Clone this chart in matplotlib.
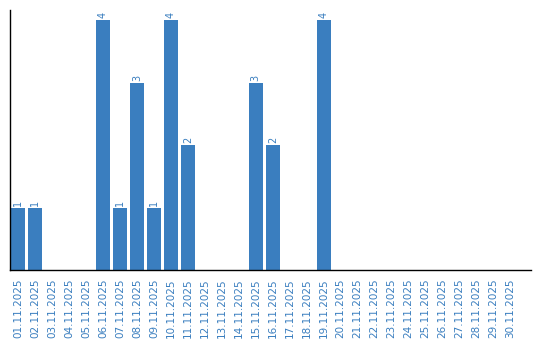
import matplotlib.pyplot as plt
import numpy as np

days = ["%02d.11.2025" % d for d in range(1, 31)]
counts = [1, 1, 0, 0, 0, 4, 1, 3, 1, 4, 2, 0, 0, 0, 3, 2, 0, 0, 4,
          0, 0, 0, 0, 0, 0, 0, 0, 0, 0, 0]

blue = "#3a7ebf"

fig = plt.figure(figsize=(5.4, 3.4), dpi=100)
ax = fig.add_axes([10 / 540, 70 / 340, 521 / 540, 260 / 340])

x = np.arange(len(days))
bars = ax.bar(x, counts, width=0.82, color=blue)

for xi, c in zip(x, counts):
    if c > 0:
        ax.text(xi, c + 0.03, str(c), rotation=90, ha="center", va="bottom",
                color=blue, fontsize=7)

ax.set_xticks(x)
ax.set_xticklabels(days, rotation=90, color=blue, fontsize=7.5)
ax.tick_params(axis="x", length=0, pad=6)
ax.set_yticks([])
ax.set_xlim(-0.47, 30.2)
ax.set_ylim(0, 4.16)
for s in ["top", "right"]:
    ax.spines[s].set_visible(False)
ax.spines["left"].set_linewidth(1)
ax.spines["bottom"].set_linewidth(1)

fig.savefig("out.png", dpi=100)
